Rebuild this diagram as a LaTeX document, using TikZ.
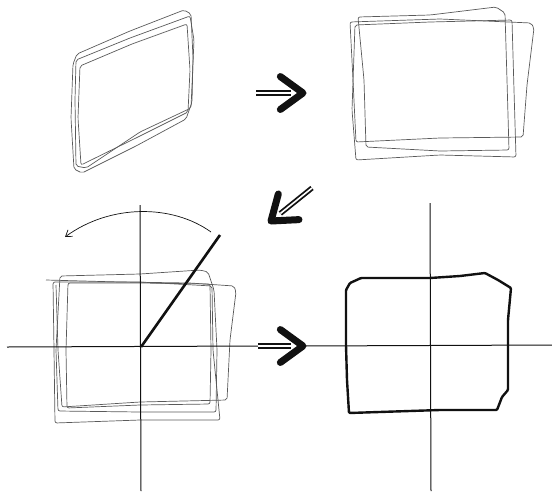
\documentclass[tikz,border=0pt]{standalone}
\usepackage{xcolor}
\usetikzlibrary{calc,arrows.meta}
\definecolor{SketchGrey}{HTML}{5A5A5A}
\definecolor{SketchInk}{HTML}{111111}

\begin{document}
\begin{tikzpicture}[x=1pt,y=-1pt,
  sketch/.style={draw=SketchGrey,line width=.7pt,rounded corners=2pt},
  axis/.style={draw=SketchInk,line width=1pt},
  final/.style={draw=SketchInk,line width=2.4pt,line join=round,rounded corners=1pt},
  ray/.style={draw=SketchInk,line width=2.6pt},
  turn/.style={draw=SketchInk,line width=.7pt,-{Straight Barb[length=6pt,width=8pt]}},
  shaft/.style={draw=SketchInk,line width=1.8pt,double=white,double distance=1.6pt},
  head/.style={draw=SketchInk,line width=7pt,line cap=round,line join=round}
]
\useasboundingbox (0,0) rectangle (552,491);

\coordinate (a1) at (256,93);  \coordinate (b1) at (303,93);
\coordinate (a2) at (312,188); \coordinate (b2) at (271,221);
\coordinate (a3) at (258,346); \coordinate (b3) at (303,346);
\coordinate (o1) at (141,347); \coordinate (r1) at (220,235);
\coordinate (w1) at (7,347);   \coordinate (n1) at (140,205); \coordinate (s1) at (141,491);
\coordinate (n2) at (430,203); \coordinate (s2) at (431,491); \coordinate (e2) at (552,345);
\coordinate (t1) at (211,232); \coordinate (t2) at (65,237);

% first sketch
\draw[sketch] (77,54) -- (130,31) -- (184,10) -- (191,14) -- (193,58) -- (192,102)
  -- (186,119) -- (136,146) -- (82,173) -- (74,169) -- (71,118) -- (73,64) -- cycle;
\draw[sketch] (80,66) -- (132,44) -- (187,24) -- (190,70) -- (188,112)
  -- (138,137) -- (81,165) -- (78,118) -- cycle;
\draw[sketch] (76,60) -- (130,38) -- (190,16) -- (194,40) -- (191,108)
  -- (140,132) -- (86,168) -- (76,166) -- (75,100) -- cycle;

% second sketch
\draw[sketch] (358,17) -- (430,15) -- (496,7) -- (505,13) -- (507,80) -- (509,150)
  -- (440,151) -- (366,147) -- (364,80) -- cycle;
\draw[sketch] (350,22) -- (440,19) -- (531,23) -- (534,28) -- (527,85) -- (523,137)
  -- (440,138) -- (356,142) -- (353,80) -- cycle;
\draw[sketch] (355,25) -- (430,22) -- (512,20) -- (514,90) -- (516,157)
  -- (440,155) -- (356,160) -- (352,110) -- cycle;

% third sketch with axes
\draw[sketch] (46,280) -- (120,282) -- (190,283) -- (234,286) -- (236,292) -- (230,340)
  -- (227,400) -- (140,402) -- (62,407) -- (58,350) -- (56,285);
\draw[sketch] (60,276) -- (140,274) -- (200,270) -- (208,272) -- (214,290) -- (217,350)
  -- (216,412) -- (140,412) -- (58,411) -- (56,350) -- cycle;
\draw[sketch] (53,282) -- (54,350) -- (55,423) -- (140,420) -- (220,420) -- (213,350)
  -- (212,286) -- (140,282) -- cycle;
\draw[sketch] (68,283) -- (140,283) -- (210,284) -- (211,350) -- (210,404)
  -- (140,405) -- (67,408) -- (66,350) -- cycle;
\draw[axis] (w1) -- (a3);
\draw[axis] (n1) -- (s1);
\draw[ray] (o1) -- (r1);
\draw[turn] (t1) .. controls (172,204) and (110,204) .. (t2);

% result
\draw[axis] (b3) -- (e2);
\draw[axis] (n2) -- (s2);
\draw[final] (346,290) -- (350,283) -- (361,278) -- (430,278) -- (460,276) -- (485,273)
  -- (498,280) -- (511,288) -- (508,320) -- (508,390) -- (502,397) -- (497,410)
  -- (440,410) -- (349,413) -- (347,380) -- (346,345) -- cycle;

\foreach \from/\to in {a1/b1,a2/b2,a3/b3}{
  \draw[shaft] (\from) -- ($(\to)!12pt!(\from)$);
  \draw[head] ($(\to)!28pt!36:(\from)$) -- (\to) -- ($(\to)!28pt!-36:(\from)$);
}
\end{tikzpicture}
\end{document}
